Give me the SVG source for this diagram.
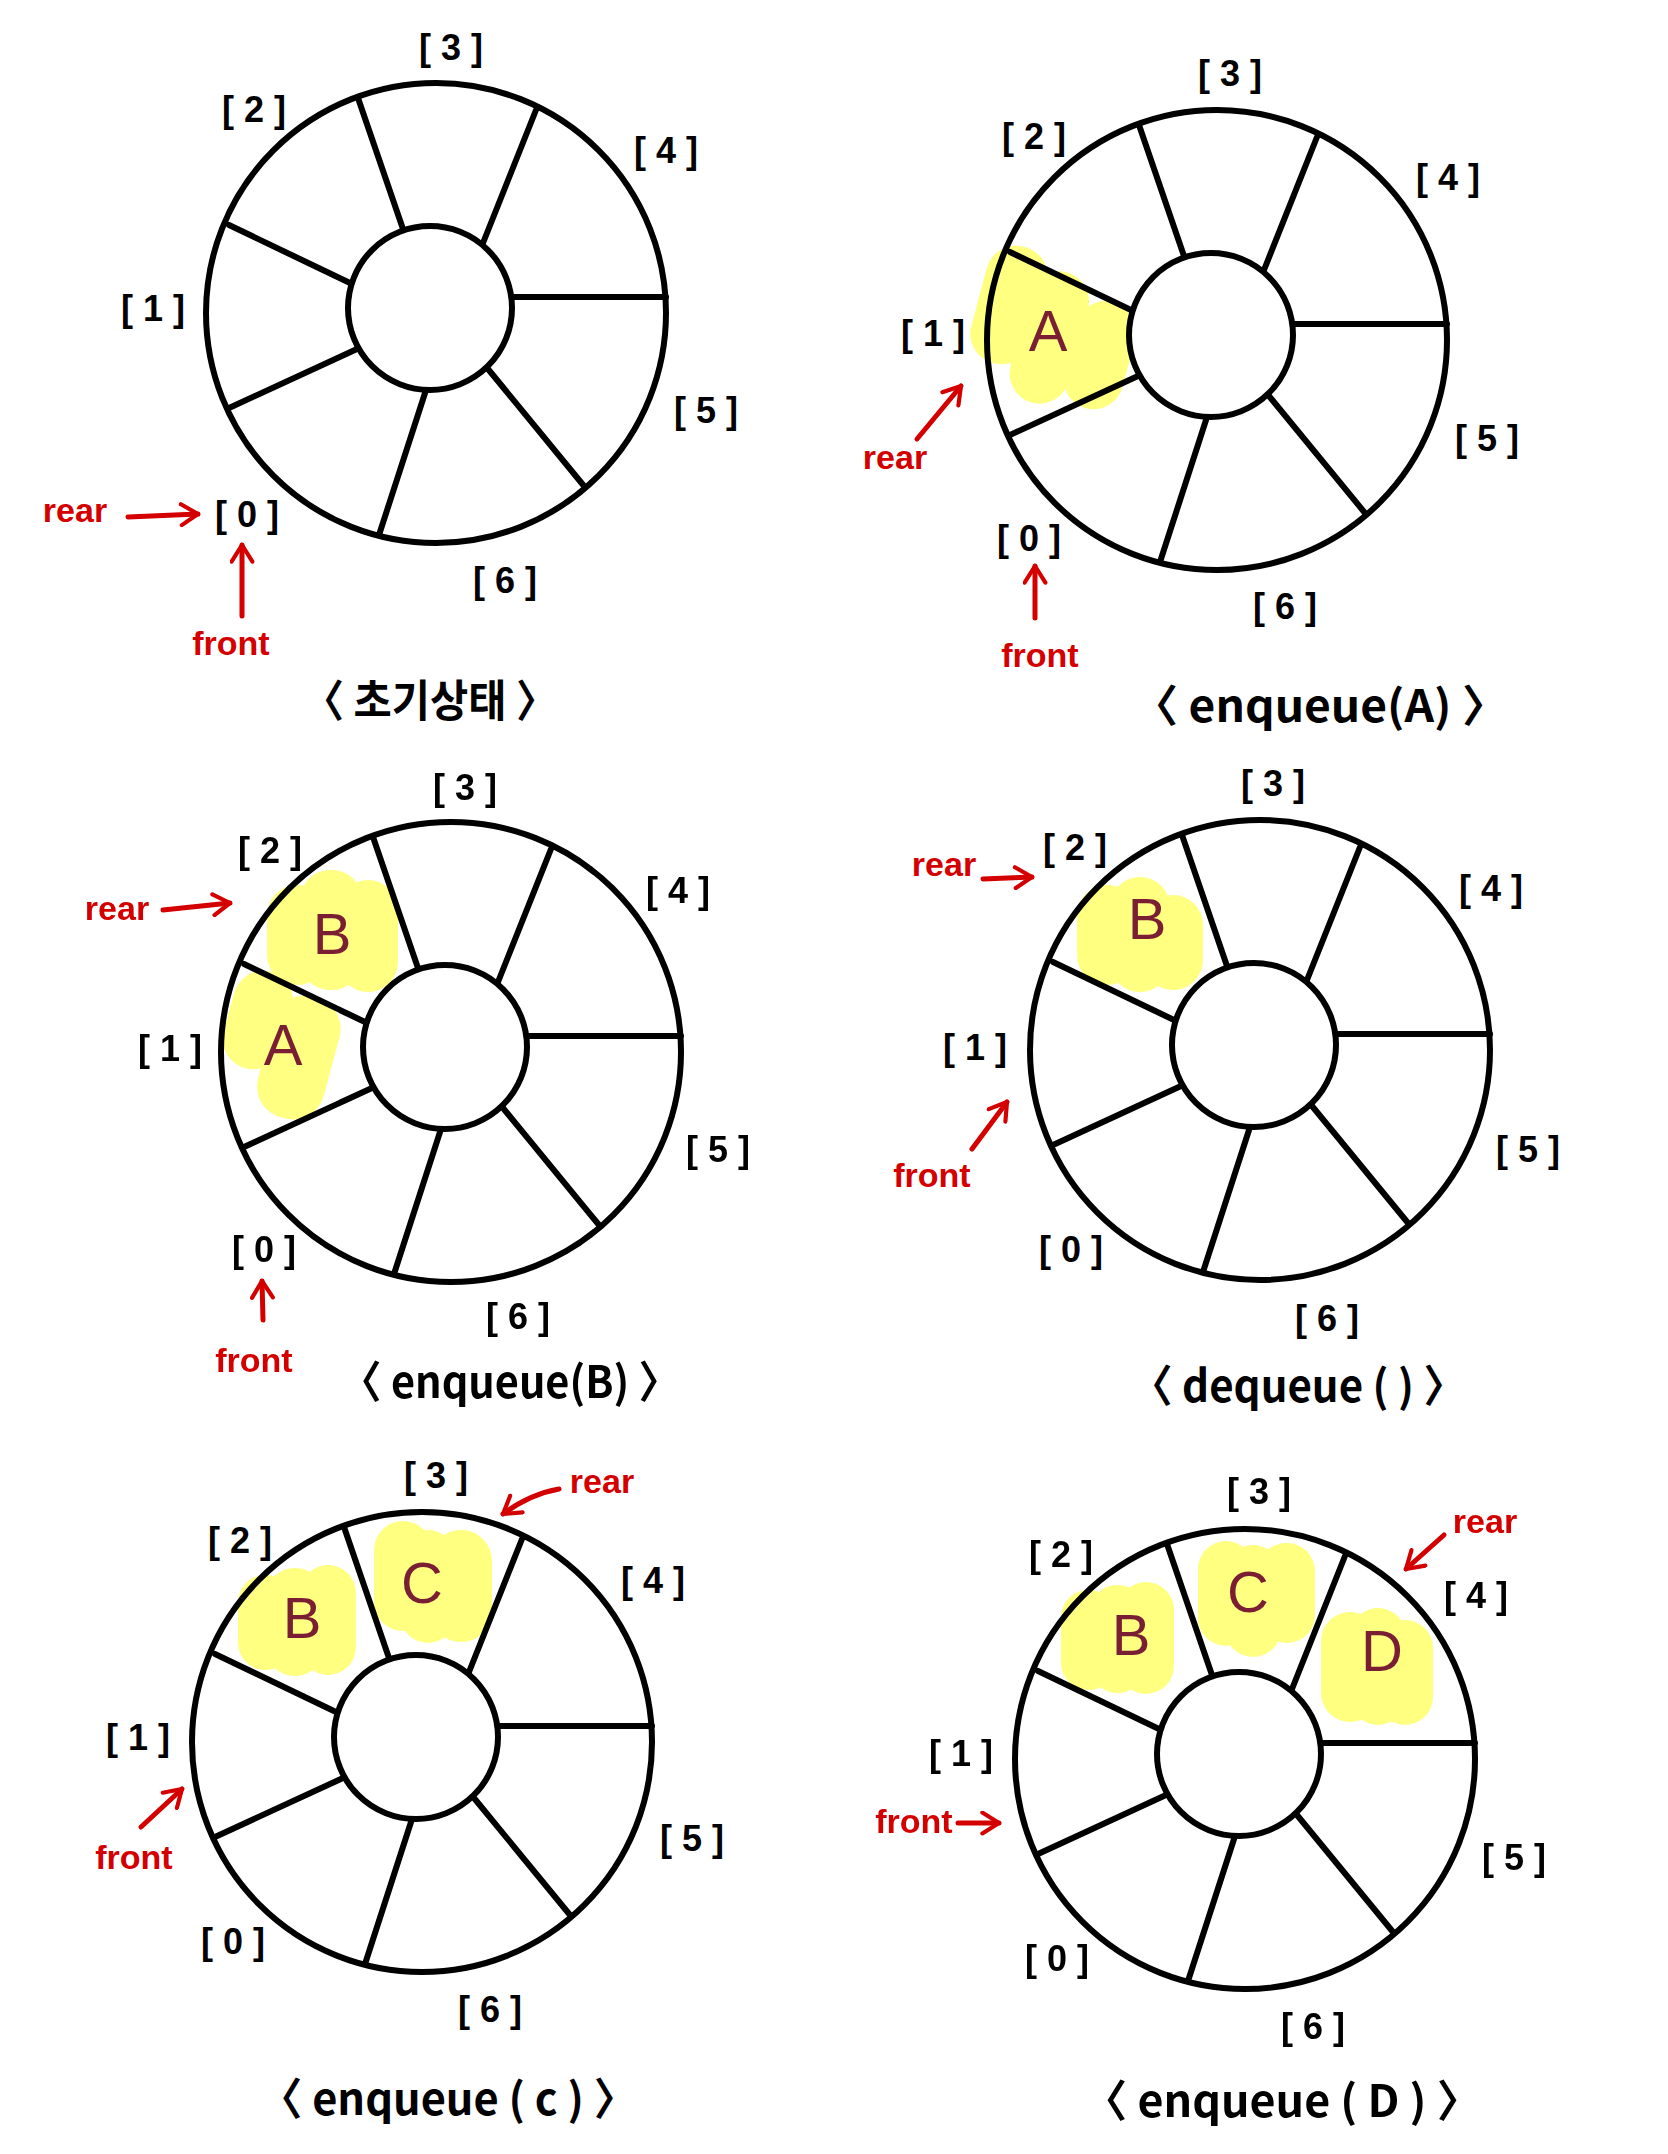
<svg xmlns="http://www.w3.org/2000/svg" xmlns:xlink="http://www.w3.org/1999/xlink" width="1668" height="2154" viewBox="0 0 1668 2154">
<style>
.ring{fill:none;stroke:#000;stroke-width:6}
.hole{fill:#fff;stroke:#000;stroke-width:6}
.spoke{stroke:#000;stroke-width:6;stroke-linecap:round}
.idx{font-family:"Liberation Sans","Noto Sans CJK KR",sans-serif;font-size:36px;font-weight:bold;fill:#000;text-anchor:middle;dominant-baseline:central;letter-spacing:10px}
.ptr{font-family:"Liberation Sans",sans-serif;font-size:34px;font-weight:bold;fill:#d40000;text-anchor:middle;dominant-baseline:central}
.arr{fill:none;stroke:#d40000;stroke-width:5;stroke-linecap:round;stroke-linejoin:round}
.val{font-family:"Liberation Sans",sans-serif;font-size:58px;fill:#7a1f33;text-anchor:middle;dominant-baseline:central}
.hl{fill:#ffff1a;opacity:0.55}
.cap{font-family:"Noto Sans CJK KR","Liberation Sans",sans-serif;font-size:44px;font-weight:bold;fill:#000;text-anchor:middle;dominant-baseline:central}
</style>
<defs>
<marker id="ah" viewBox="0 0 12 12" refX="10" refY="6" markerWidth="5" markerHeight="5" orient="auto" markerUnits="strokeWidth">
<path d="M2,1 L10,6 L2,11" fill="none" stroke="#d40000" stroke-width="2" stroke-linecap="round" stroke-linejoin="round"/>
</marker>
<g id="wheel">
<circle class="ring" cx="436" cy="313" r="230"/>
<line class="spoke" x1="404" y1="232" x2="358" y2="98"/>
<line class="spoke" x1="483" y1="243" x2="536" y2="110"/>
<line class="spoke" x1="513" y1="297" x2="666" y2="297"/>
<line class="spoke" x1="488" y1="369" x2="584" y2="486"/>
<line class="spoke" x1="426" y1="390" x2="379" y2="535"/>
<line class="spoke" x1="357" y1="349" x2="229" y2="408"/>
<line class="spoke" x1="350" y1="283" x2="229" y2="225"/>
<circle class="hole" cx="430" cy="308" r="82"/>
</g>
</defs>
<rect width="1668" height="2154" fill="#fff"/>

<!-- Panel 1 -->
<g id="panel-initial">
<use xlink:href="#wheel" href="#wheel"/>
<text class="idx" x="456" y="47">[3]</text>
<text class="idx" x="259" y="109">[2]</text>
<text class="idx" x="671" y="150">[4]</text>
<text class="idx" x="158" y="308">[1]</text>
<text class="idx" x="711" y="410">[5]</text>
<text class="idx" x="252" y="514">[0]</text>
<text class="idx" x="510" y="580">[6]</text>
<text class="ptr" x="75" y="510">rear</text>
<text class="ptr" x="231" y="643">front</text>
<text class="cap" x="430" y="698" textLength="255" lengthAdjust="spacingAndGlyphs">〈 초기상태 〉</text>
</g>

<!-- Panel 2 -->
<g id="panel-enqueue-a">
<g class="hl">
<rect x="978" y="245" width="62" height="120" rx="30" transform="rotate(15 1009 305)"/>
<rect x="1020" y="270" width="60" height="135" rx="30" transform="rotate(15 1050 335)"/>
<rect x="1070" y="300" width="60" height="110" rx="30" transform="rotate(15 1100 355)"/>
</g>
<use xlink:href="#wheel" href="#wheel" transform="translate(781,27)"/>
<text class="val" x="1048" y="330">A</text>
<text class="idx" x="1235" y="73">[3]</text>
<text class="idx" x="1039" y="136">[2]</text>
<text class="idx" x="1453" y="177">[4]</text>
<text class="idx" x="938" y="333">[1]</text>
<text class="idx" x="1492" y="438">[5]</text>
<text class="idx" x="1034" y="538">[0]</text>
<text class="idx" x="1290" y="606">[6]</text>
<text class="ptr" x="895" y="457">rear</text>
<text class="ptr" x="1040" y="655">front</text>
<text class="cap" x="1320" y="703" textLength="376" lengthAdjust="spacingAndGlyphs">〈 enqueue(A) 〉</text>
</g>

<!-- Panel 3 -->
<g id="panel-enqueue-b">
<g class="hl">
<rect x="267" y="885" width="60" height="100" rx="30"/>
<rect x="300" y="870" width="62" height="120" rx="30"/>
<rect x="338" y="880" width="60" height="112" rx="30"/>
<rect x="228" y="970" width="60" height="100" rx="30" transform="rotate(15 258 1020)"/>
<rect x="265" y="995" width="68" height="125" rx="32" transform="rotate(15 299 1057)"/>
</g>
<use xlink:href="#wheel" href="#wheel" transform="translate(15,739)"/>
<text class="val" x="332" y="933">B</text>
<text class="val" x="283" y="1044">A</text>
<text class="idx" x="470" y="787">[3]</text>
<text class="idx" x="275" y="850">[2]</text>
<text class="idx" x="683" y="890">[4]</text>
<text class="idx" x="175" y="1048">[1]</text>
<text class="idx" x="723" y="1149">[5]</text>
<text class="idx" x="269" y="1249">[0]</text>
<text class="idx" x="523" y="1316">[6]</text>
<text class="ptr" x="117" y="908">rear</text>
<text class="ptr" x="254" y="1360">front</text>
<text class="cap" x="510" y="1379" textLength="340" lengthAdjust="spacingAndGlyphs">〈 enqueue(B) 〉</text>
</g>

<!-- Panel 4 -->
<g id="panel-dequeue">
<g class="hl">
<rect x="1077" y="885" width="60" height="100" rx="30"/>
<rect x="1110" y="877" width="60" height="115" rx="30"/>
<rect x="1143" y="895" width="60" height="95" rx="30"/>
</g>
<use xlink:href="#wheel" href="#wheel" transform="translate(824,737)"/>
<text class="val" x="1147" y="918">B</text>
<text class="idx" x="1278" y="783">[3]</text>
<text class="idx" x="1080" y="847">[2]</text>
<text class="idx" x="1496" y="888">[4]</text>
<text class="idx" x="980" y="1047">[1]</text>
<text class="idx" x="1533" y="1149">[5]</text>
<text class="idx" x="1076" y="1249">[0]</text>
<text class="idx" x="1332" y="1318">[6]</text>
<text class="ptr" x="944" y="864">rear</text>
<text class="ptr" x="932" y="1175">front</text>
<text class="cap" x="1298" y="1383" textLength="335" lengthAdjust="spacingAndGlyphs">〈 dequeue ( ) 〉</text>
</g>

<!-- Panel 5 -->
<g id="panel-enqueue-c">
<g class="hl">
<rect x="238" y="1575" width="55" height="95" rx="27"/>
<rect x="265" y="1568" width="60" height="108" rx="30"/>
<rect x="300" y="1565" width="56" height="110" rx="28"/>
<rect x="374" y="1521" width="58" height="110" rx="29"/>
<rect x="400" y="1530" width="56" height="113" rx="28"/>
<rect x="430" y="1530" width="62" height="112" rx="31"/>
</g>
<use xlink:href="#wheel" href="#wheel" transform="translate(-14,1429)"/>
<text class="val" x="302" y="1617">B</text>
<text class="val" x="422" y="1582">C</text>
<text class="idx" x="441" y="1475">[3]</text>
<text class="idx" x="245" y="1540">[2]</text>
<text class="idx" x="658" y="1580">[4]</text>
<text class="idx" x="143" y="1737">[1]</text>
<text class="idx" x="697" y="1838">[5]</text>
<text class="idx" x="238" y="1941">[0]</text>
<text class="idx" x="495" y="2009">[6]</text>
<text class="ptr" x="602" y="1481">rear</text>
<text class="ptr" x="134" y="1857">front</text>
<text class="cap" x="448" y="2096" textLength="378" lengthAdjust="spacingAndGlyphs">〈 enqueue ( c ) 〉</text>
</g>

<!-- Panel 6 -->
<g id="panel-enqueue-d">
<g class="hl">
<rect x="1061" y="1590" width="55" height="100" rx="27"/>
<rect x="1090" y="1585" width="55" height="108" rx="27"/>
<rect x="1118" y="1582" width="56" height="112" rx="28"/>
<rect x="1198" y="1541" width="56" height="105" rx="28"/>
<rect x="1225" y="1545" width="56" height="112" rx="28"/>
<rect x="1258" y="1543" width="57" height="100" rx="28"/>
<rect x="1321" y="1612" width="58" height="110" rx="29"/>
<rect x="1350" y="1608" width="56" height="117" rx="28"/>
<rect x="1377" y="1620" width="56" height="105" rx="28"/>
</g>
<use xlink:href="#wheel" href="#wheel" transform="translate(809,1446)"/>
<text class="val" x="1131" y="1634">B</text>
<text class="val" x="1248" y="1591">C</text>
<text class="val" x="1382" y="1650">D</text>
<text class="idx" x="1264" y="1491">[3]</text>
<text class="idx" x="1066" y="1554">[2]</text>
<text class="idx" x="1481" y="1595">[4]</text>
<text class="idx" x="966" y="1753">[1]</text>
<text class="idx" x="1519" y="1857">[5]</text>
<text class="idx" x="1062" y="1958">[0]</text>
<text class="idx" x="1318" y="2026">[6]</text>
<text class="ptr" x="1485" y="1521">rear</text>
<text class="ptr" x="914" y="1821">front</text>
<text class="cap" x="1282" y="2098" textLength="399" lengthAdjust="spacingAndGlyphs">〈 enqueue ( D ) 〉</text>
</g>

<!-- Connectors: rear/front pointer arrows -->
<g id="connectors">
<line class="arr" x1="128" y1="517" x2="198" y2="514" marker-end="url(#ah)"/>
<line class="arr" x1="242" y1="616" x2="242" y2="545" marker-end="url(#ah)"/>
<line class="arr" x1="917" y1="439" x2="961" y2="386" marker-end="url(#ah)"/>
<line class="arr" x1="1035" y1="618" x2="1035" y2="566" marker-end="url(#ah)"/>
<line class="arr" x1="163" y1="910" x2="230" y2="903" marker-end="url(#ah)"/>
<line class="arr" x1="263" y1="1320" x2="262" y2="1281" marker-end="url(#ah)"/>
<line class="arr" x1="983" y1="879" x2="1032" y2="877" marker-end="url(#ah)"/>
<line class="arr" x1="972" y1="1149" x2="1007" y2="1102" marker-end="url(#ah)"/>
<path class="arr" d="M559,1489 Q530,1494 503,1514" marker-end="url(#ah)"/>
<line class="arr" x1="141" y1="1827" x2="182" y2="1789" marker-end="url(#ah)"/>
<line class="arr" x1="1444" y1="1535" x2="1406" y2="1569" marker-end="url(#ah)"/>
<line class="arr" x1="958" y1="1823" x2="999" y2="1823" marker-end="url(#ah)"/>
</g>
</svg>
